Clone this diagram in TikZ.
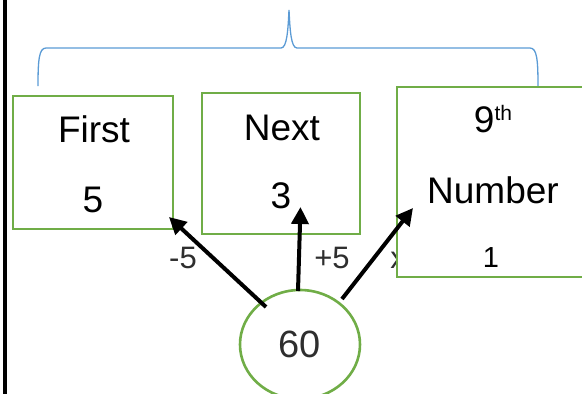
\documentclass[tikz,border=0pt]{standalone}
\usepackage{fontspec}
\setmainfont{Liberation Sans}
\usetikzlibrary{arrows.meta,shapes.geometric}
\definecolor{boxgreen}{HTML}{70AD47}
\definecolor{braceblue}{HTML}{5B9BD5}
\definecolor{labelgray}{HTML}{2E2E2E}

\begin{document}
\begin{tikzpicture}[x=1pt,y=-1pt,
  numbox/.style={draw=boxgreen, line width=2.6pt, fill=white},
  bigtext/.style={font=\fontsize{37}{40}\selectfont, anchor=base, inner sep=0pt},
  midtext/.style={font=\fontsize{29}{32}\selectfont, anchor=base, inner sep=0pt},
  optext/.style={font=\fontsize{31}{34}\selectfont, text=labelgray, anchor=base, inner sep=0pt},
  steparrow/.style={line width=4pt, -{Triangle[length=17pt,width=17pt]}},
  bracepath/.style={draw=braceblue, line width=1.3pt},
]
\useasboundingbox (0,0) rectangle (582,394);
\clip (0,0) rectangle (582,394);

% left margin rule
\draw[line width=4pt] (5,0) coordinate (ruletop) -- (5,394) coordinate (rulebot);

% brace over the three boxes
\coordinate (bracetip) at (289,10);
\draw[bracepath] (38,86) .. controls (38,60) and (39,48) .. (46,48) -- (281,48)
  .. controls (287,48) and (288,30) .. (bracetip)
  .. controls (290,30) and (291,48) .. (297,48) -- (530,48)
  .. controls (537,48) and (538,60) .. (538,86);

% operation labels ("x" sits partly behind the third box)
\node[optext] (lminus) at (183,268) {-5};
\node[optext] (lplus)  at (332,268) {+5};
\node[optext] (ltimes) at (398,268) {x};

% the three boxes
\draw[numbox] (13,96) rectangle (173,229);
\node (b1) at (93,162) {};
\draw[numbox] (202,93) rectangle (360,234);
\node (b2) at (281,163) {};
\draw[numbox] (397,87) rectangle (610,277);
\node (b3) at (493,182) {};

\node[bigtext] (first) at (94,142) {First};
\node[bigtext] (v1)    at (93,212) {5};
\node[bigtext] (next)  at (282,140) {Next};
\node[bigtext] (v2)    at (281,208) {3};
\node[bigtext] (ninth) at (493,132) {9\raisebox{12pt}{\fontsize{21}{24}\selectfont th}};
\node[bigtext] (numw)  at (493,203) {Number};
\node[midtext] (v3)    at (491,267) {1};

% start value
\node[draw=boxgreen, line width=2.6pt, ellipse, minimum width=120pt, minimum height=109pt,
      inner sep=0pt, font=\fontsize{38}{40}\selectfont, text=labelgray] (start) at (300,344.5) {60};

% arrows from the start value to each box
\coordinate (s1) at (266,307);
\coordinate (t1) at (169,217);
\coordinate (s2) at (298,291);
\coordinate (t2) at (300.5,207);
\coordinate (s3) at (342,299);
\coordinate (t3) at (413,208);
\draw[steparrow] (s1) -- (t1);
\draw[steparrow] (s2) -- (t2);
\draw[steparrow] (s3) -- (t3);
\end{tikzpicture}
\end{document}
